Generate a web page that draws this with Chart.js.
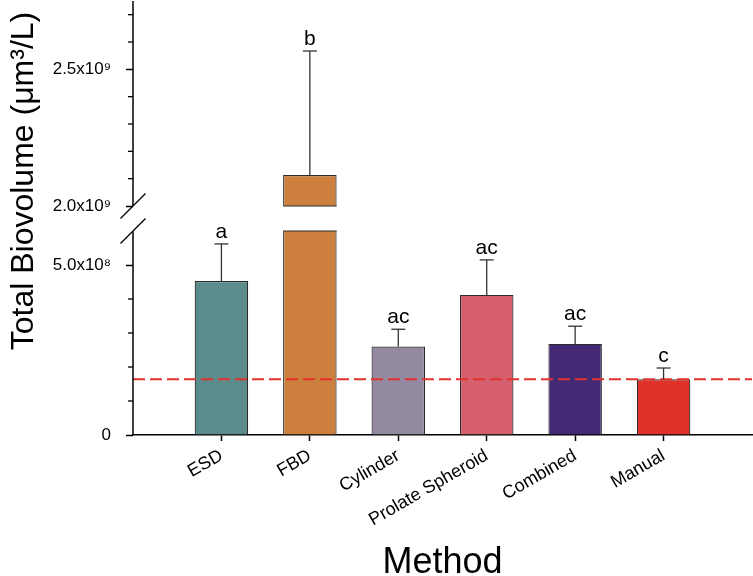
<!DOCTYPE html>
<html>
<head>
<meta charset="utf-8">
<title>Total Biovolume by Method</title>
<script src="https://cdn.jsdelivr.net/npm/chart.js@4.4.1/dist/chart.umd.min.js"></script>
<style>
  html, body { margin: 0; padding: 0; background: #fff; }
  #wrap { width: 753px; height: 576px; }
</style>
</head>
<body>
<div id="wrap"><canvas id="bioChart" width="753" height="576"></canvas></div>
<script>
// ========== DATA ==========
const methods = ['ESD', 'FBD', 'Cylinder', 'Prolate Spheroid', 'Combined', 'Manual'];
const meanVolume = [4.53e8, 2.113e9, 2.60e8, 4.12e8, 2.68e8, 1.64e8];
const errVolume = [1.09e8, 4.54e8, 0.51e8, 1.03e8, 0.52e8, 0.33e8];
const groupLetters = ['a', 'b', 'ac', 'ac', 'ac', 'c'];
const manualLevel = [1.64e8];

const majorTicks = [0, 5e8, 2.0e9, 2.5e9];
const majorTickLabels = ['0', '5.0x10⁸', '2.0x10⁹', '2.5x10⁹'];
const minorTicks = [1e8, 2e8, 3e8, 4e8, 2.1e9, 2.2e9, 2.3e9, 2.4e9, 2.6e9, 2.7e9];

// ========== STYLE ==========
const barColors = ['#5C8B8B', '#CD803D', '#9389A1', '#D65F6E', '#422875', '#E0322A'];
const FONT = 'Arial, "Liberation Sans", sans-serif';
Chart.defaults.font.family = FONT;
Chart.defaults.color = '#000';

// broken y axis: 0..6e8 at the bottom, 2.0e9..2.75e9 on top
const LOW_TOP = 6e8, HIGH_BOTTOM = 2.0e9, HIGH_TOP = 2.75e9;
const LOW_SPAN = 204, GAP_SPAN = 25, HIGH_SPAN = 205;

function toAxis(v) {
    if (v <= LOW_TOP) return v / LOW_TOP * LOW_SPAN;
    if (v >= HIGH_BOTTOM) return LOW_SPAN + GAP_SPAN + (v - HIGH_BOTTOM) / (HIGH_TOP - HIGH_BOTTOM) * HIGH_SPAN;
    return LOW_SPAN + (v - LOW_TOP) / (HIGH_BOTTOM - LOW_TOP) * GAP_SPAN;
}

function majorIndex(axisVal) {
    return majorTicks.findIndex(m => Math.abs(toAxis(m) - axisVal) < 1e-6);
}

function line(ctx, x1, y1, x2, y2) {
    ctx.beginPath();
    ctx.moveTo(x1, y1);
    ctx.lineTo(x2, y2);
    ctx.stroke();
}

// axis break, minor ticks, error bars, letters, y title
const brokenAxis = {
    id: 'brokenAxis',
    afterDatasetsDraw(chart) {
        const { ctx, chartArea, scales: { y } } = chart;
        const meta = chart.getDatasetMeta(0);
        const yLowTop = y.getPixelForValue(toAxis(LOW_TOP));
        const yHighBottom = y.getPixelForValue(toAxis(HIGH_BOTTOM));
        const ax = chartArea.left;
        ctx.save();

        // cut through bars that reach the upper segment
        meta.data.forEach((bar, i) => {
            if (meanVolume[i] < HIGH_BOTTOM) return;
            const left = bar.x - bar.width / 2;
            ctx.fillStyle = '#fff';
            ctx.fillRect(left - 2, yHighBottom, bar.width + 4, yLowTop - yHighBottom);
            ctx.strokeStyle = '#2b2b2b';
            ctx.lineWidth = 1.2;
            line(ctx, left, yHighBottom, left + bar.width, yHighBottom);
            line(ctx, left, yLowTop, left + bar.width, yLowTop);
        });

        // error bars + letters
        meta.data.forEach((bar, i) => {
            const top = y.getPixelForValue(toAxis(meanVolume[i] + errVolume[i]));
            ctx.strokeStyle = '#333';
            ctx.lineWidth = 1.3;
            line(ctx, bar.x, bar.y, bar.x, top);
            line(ctx, bar.x - 7, top, bar.x + 7, top);
            ctx.fillStyle = '#000';
            ctx.font = '21px ' + FONT;
            ctx.textAlign = 'center';
            ctx.textBaseline = 'alphabetic';
            ctx.fillText(groupLetters[i], bar.x, top - 6);
        });

        // y axis in two pieces
        ctx.strokeStyle = '#000';
        ctx.lineWidth = 1.5;
        line(ctx, ax, y.getPixelForValue(0), ax, yLowTop);
        line(ctx, ax, yHighBottom, ax, y.getPixelForValue(toAxis(HIGH_TOP)));
        ctx.lineWidth = 1.2;
        [yHighBottom, yLowTop].forEach(py => line(ctx, ax - 12.5, py + 12.5, ax + 12.5, py - 12.5));

        // minor ticks
        ctx.lineWidth = 1.3;
        minorTicks.forEach(v => {
            const py = y.getPixelForValue(toAxis(v));
            line(ctx, ax - 5, py, ax, py);
        });

        // y title
        ctx.translate(24, 181);
        ctx.rotate(-Math.PI / 2);
        ctx.font = '32px ' + FONT;
        ctx.textAlign = 'center';
        ctx.textBaseline = 'middle';
        ctx.fillText('Total Biovolume (μm³/L)', 0, 0);
        ctx.restore();
    }
};

let bioChart;

function loadBioChart() {
    const canvas = document.getElementById('bioChart');
    if (!canvas) return;
    const ctx = canvas.getContext('2d');
    if (bioChart) bioChart.destroy();

    bioChart = new Chart(ctx, {
        type: 'bar',
        data: {
            datasets: [{
                type: 'bar',
                data: meanVolume.map((v, i) => ({ x: i + 1, y: toAxis(v) })),
                backgroundColor: barColors,
                borderColor: '#2b2b2b',
                borderWidth: 1.2,
                barPercentage: 0.605,
                categoryPercentage: 1,
                order: 2
            }, {
                type: 'line',
                data: [{ x: 0, y: toAxis(manualLevel[0]) }, { x: 7, y: toAxis(manualLevel[0]) }],
                borderColor: '#E2322D',
                borderWidth: 2,
                borderDash: [12, 5],
                pointRadius: 0,
                order: 1
            }]
        },
        options: {
            responsive: false,
            animation: false,
            layout: { padding: { left: 0, right: 1, top: 1, bottom: 0 } },
            plugins: { legend: { display: false }, tooltip: { enabled: false } },
            scales: {
                x: {
                    type: 'linear',
                    min: 0,
                    max: 7,
                    offset: false,
                    afterBuildTicks: s => { s.ticks = methods.map((m, i) => ({ value: i + 1 })); },
                    afterFit: s => { s.height = 141; s.paddingLeft = 0; s.paddingRight = 0; },
                    ticks: {
                        autoSkip: false,
                        minRotation: 30,
                        maxRotation: 30,
                        padding: 4,
                        font: { size: 18 },
                        color: '#000',
                        callback: v => methods[v - 1]
                    },
                    grid: { drawOnChartArea: false, offset: false, tickLength: 6, tickColor: '#000', tickWidth: 1.5 },
                    border: { display: true, color: '#000', width: 1.5 },
                    title: {
                        display: true,
                        text: 'Method',
                        color: '#000',
                        font: { size: 36, lineHeight: 1 },
                        padding: { top: 0, bottom: -5 }
                    }
                },
                y: {
                    type: 'linear',
                    min: 0,
                    max: LOW_SPAN + GAP_SPAN + HIGH_SPAN,
                    afterBuildTicks: s => {
                        s.ticks = majorTicks.concat(minorTicks).sort((a, b) => a - b).map(v => ({ value: toAxis(v) }));
                    },
                    afterFit: s => { s.width = 133; s.paddingTop = 0; s.paddingBottom = 0; },
                    ticks: {
                        autoSkip: false,
                        padding: 15,
                        font: { size: 17 },
                        color: '#000',
                        callback: v => { const k = majorIndex(v); return k >= 0 ? majorTickLabels[k] : ''; }
                    },
                    grid: {
                        drawOnChartArea: false,
                        tickLength: 7,
                        tickWidth: 1.5,
                        tickColor: c => (c.tick && majorIndex(c.tick.value) >= 0) ? '#000' : 'rgba(0,0,0,0)'
                    },
                    border: { display: false }
                }
            }
        },
        plugins: [brokenAxis]
    });
}

loadBioChart();
</script>
</body>
</html>
